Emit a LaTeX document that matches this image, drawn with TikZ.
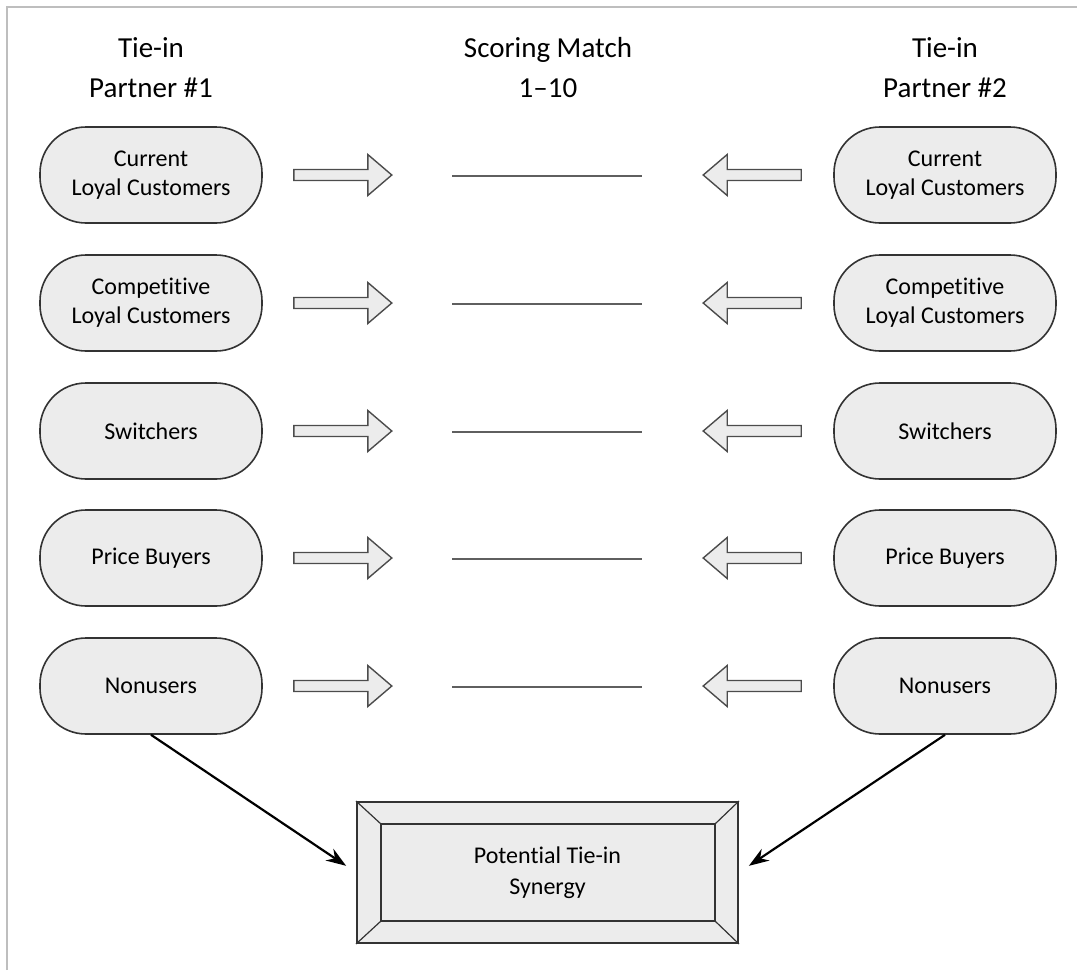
\documentclass[tikz,border=0pt]{standalone}
\usepackage{fontspec}
\setmainfont{Carlito}[Ligatures=NoCommon]
\usetikzlibrary{arrows.meta,positioning,calc}
\definecolor{segfill}{RGB}{236,236,236}
\definecolor{framegray}{RGB}{190,190,190}
\definecolor{rulegray}{RGB}{95,95,95}
\tikzset{
  seg/.style={draw=black!80, fill=segfill, line width=0.8pt, rounded corners=23pt,
    minimum width=111pt, minimum height=48pt, align=center, inner sep=2pt,
    font=\fontsize{12}{14.5}\selectfont},
  hdr/.style={align=center, font=\fontsize{14.5}{20}\selectfont},
  blk/.style={draw=black!70, fill=segfill, line width=0.7pt, line join=miter},
  scr/.style={rulegray, line width=0.6pt},
  syn/.style={draw=black!80, fill=segfill, line width=0.9pt, minimum width=190.5pt,
    minimum height=70.5pt, align=center, font=\fontsize{12}{15.5}\selectfont},
  dia/.style={-{Stealth[length=10pt, width=7pt]}, line width=1.1pt, shorten >=6pt},
  frm/.style={framegray, line width=1pt},
}
\begin{document}
\begin{tikzpicture}[x=0.5pt, y=-0.5pt]
  \useasboundingbox (0,0) rectangle (1077,970);
  \draw[frm] (7,970) -- (7,7) -- (1077,7);
  % column heads
  \node[hdr] (head1) at (151,68) {Tie-in\\Partner \#1};
  \node[hdr] (headS) at (548,68) {Scoring Match\\1--10};
  \node[hdr] (head2) at (945,68) {Tie-in\\Partner \#2};
  % segment rows
  \foreach \i/\y/\txt in {1/175/{Current\\Loyal Customers}, 2/303/{Competitive\\Loyal Customers},
      3/431/{Switchers}, 4/558/{Price Buyers}, 5/686/{Nonusers}} {
    \node[seg] (L\i) at (151,\y) {\txt};
    \node[seg] (R\i) at (945,\y) {\txt};
    \draw[blk] ($(L\i.east)+(31,-5.5)$) -- ++(74,0) -- ++(0,-15) -- ++(24,20.5)
      -- ++(-24,20.5) -- ++(0,-15) -- ++(-74,0) -- cycle;
    \draw[blk] ($(R\i.west)+(-32,-5.5)$) -- ++(-74,0) -- ++(0,-15) -- ++(-24,20.5)
      -- ++(24,20.5) -- ++(0,-15) -- ++(74,0) -- cycle;
    \draw[scr] (452,\y+1) -- (642,\y+1);
  }
  % synergy box
  \node[syn] (syn) at (547.5,872.5) {Potential Tie-in\\Synergy};
  \draw[black!80, line width=0.9pt]
    ($(syn.north west)+(25,23)$) rectangle ($(syn.south east)+(-24,-23)$);
  \draw[black!80, line width=0.6pt]
    (syn.north west) -- ++(25,23) (syn.north east) -- ++(-24,23)
    (syn.south west) -- ++(25,-23) (syn.south east) -- ++(-24,-23);
  \draw[dia] (L5.south) -- (syn.west);
  \draw[dia] (R5.south) -- (syn.east);
\end{tikzpicture}
\end{document}
